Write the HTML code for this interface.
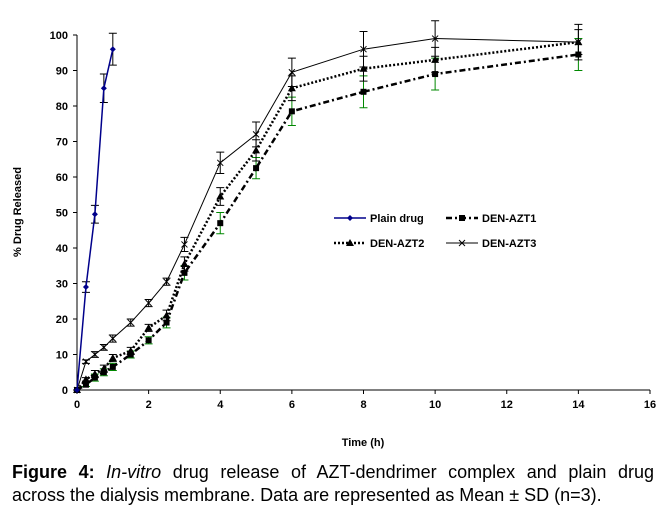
<!DOCTYPE html>
<html><head><meta charset="utf-8"><style>
body{margin:0;background:#fff;width:666px;height:517px;overflow:hidden;font-family:"Liberation Sans",Arial,sans-serif}
svg text{font-family:"Liberation Sans",Arial,sans-serif}
.cap{position:absolute;left:12px;top:461px;width:642px;font-size:18px;line-height:23px;color:#000}
.l1{display:block;text-align:justify;text-align-last:justify;white-space:nowrap}
.l2{display:block;text-align:left;white-space:nowrap}
</style></head><body>
<svg id="chart" width="666" height="517" style="position:absolute;left:0;top:0"></svg>
<div class="cap"><span class="l1"><b>Figure 4:</b> <i>In-vitro</i> drug release of AZT-dendrimer complex and plain drug</span><span class="l2">across the dialysis membrane. Data are represented as Mean ± SD (n=3).</span></div>
<script>
const xTicks=[0,2,4,6,8,10,12,14,16];
const yTicks=[0,10,20,30,40,50,60,70,80,90,100];
const plainT=[0,0.25,0.5,0.75,1];
const plainV=[0,29,49.5,85,96];
const plainE=[0,1.5,2.5,4,4.5];
const tLong=[0,0.25,0.5,0.75,1,1.5,2,2.5,3,4,5,6,8,10,14];
const azt1V=[0,1.5,3.5,5,6.5,10,14,19,33,47,62.5,78.5,84,89,94.5];
const azt1E=[0,0.5,1,1,1,1,1,1.5,2,3,3,4,4.5,4.5,4.5];
const azt2V=[0,3,4.5,6,9,11,17.5,21,35.5,54.5,67.5,85,90.5,93,98];
const azt2E=[0,0.5,1,1,1,1,1,1.5,2,2.5,3,3.5,3.5,3.5,3.5];
const azt3V=[0,8,10,12,14.5,19,24.5,30.5,41,64,72,89.5,96,99,98];
const azt3E=[0,0.5,0.8,0.8,1,1,1,1,2,3,3.5,4,5,5,5];
const X=t=>77+t*(573/16), Y=v=>390-v*3.55;
const svg=document.getElementById('chart');const NS='http://www.w3.org/2000/svg';
function mk(tag,at,parent){const e=document.createElementNS(NS,tag);for(const k in at)e.setAttribute(k,at[k]);(parent||svg).appendChild(e);return e;}
let e;
e=mk('line',{x1:77,y1:35,x2:77,y2:390,stroke:'#000'});


e=mk('line',{x1:77,y1:390,x2:650,y2:390,stroke:'#000'});


yTicks.forEach(v=>{mk('line',{x1:73,y1:Y(v),x2:77,y2:Y(v),stroke:'#000'});
 e=mk('text',{x:68,y:Y(v)+4,'text-anchor':'end','font-size':11,'font-weight':'bold'});e.textContent=v;
 
 });
xTicks.forEach(v=>{mk('line',{x1:X(v),y1:390,x2:X(v),y2:394,stroke:'#000'});
 e=mk('text',{x:X(v),y:408,'text-anchor':'middle','font-size':11,'font-weight':'bold'});e.textContent=v;
 
 });
e=mk('text',{x:0,y:0,transform:'translate(21,212) rotate(-90)','text-anchor':'middle','font-size':11,'font-weight':'bold'});e.textContent='% Drug Released';


e=mk('text',{x:363,y:446,'text-anchor':'middle','font-size':11,'font-weight':'bold'});e.textContent='Time (h)';


function marker(g,type,x,y,col){
 if(type==='diamond')mk('polygon',{points:`${x},${y-3} ${x+3},${y} ${x},${y+3} ${x-3},${y}`,fill:col},g);
 else if(type==='square')mk('rect',{x:x-3,y:y-3,width:6,height:6,fill:col},g);
 else if(type==='tri')mk('polygon',{points:`${x},${y-4} ${x+4},${y+3} ${x-4},${y+3}`,fill:col},g);
 else{mk('line',{x1:x-3,y1:y-3,x2:x+3,y2:y+3,stroke:col},g);mk('line',{x1:x-3,y1:y+3,x2:x+3,y2:y-3,stroke:col},g);}
}
function series(name,ts,vs,es,col,w,dash,type,ecol){
 const g=mk('g',{});
 
 
 ts.forEach((t,i)=>{if(es[i]>0){const x=X(t);mk('path',{d:`M${x},${Y(vs[i]+es[i])}V${Y(vs[i]-es[i])}M${x-4},${Y(vs[i]+es[i])}h8M${x-4},${Y(vs[i]-es[i])}h8`,stroke:ecol,fill:'none'},g);}});
 mk('polyline',{points:ts.map((t,i)=>X(t)+','+Y(vs[i])).join(' '),fill:'none',stroke:col,'stroke-width':w,'stroke-dasharray':dash},g);
 ts.forEach((t,i)=>marker(g,type,X(t),Y(vs[i]),col));
}
series('series-azt1',tLong,azt1V,azt1E,'#000',2.5,'6,3,2,3','square','#080');
series('series-azt2',tLong,azt2V,azt2E,'#000',2.5,'2,2','tri','#000');
series('series-azt3',tLong,azt3V,azt3E,'#000',1,'','x','#000');
series('series-plain-drug',plainT,plainV,plainE,'#00008b',1.5,'','diamond','#000');
const leg=[['Plain drug',334,218,'#00008b',1.5,'','diamond'],['DEN-AZT1',446,218,'#000',2.5,'6,3,2,3','square'],['DEN-AZT2',334,243,'#000',2.5,'2,2','tri'],['DEN-AZT3',446,243,'#000',1,'','x']];
leg.forEach(l=>{const g=mk('g',{});
 
 
 mk('line',{x1:l[1],y1:l[2],x2:l[1]+32,y2:l[2],stroke:l[3],'stroke-width':l[4],'stroke-dasharray':l[5]},g);
 marker(g,l[6],l[1]+16,l[2],l[3]);
 const t=mk('text',{x:l[1]+36,y:l[2]+4,'font-size':11,'font-weight':'bold'},g);t.textContent=l[0];});
</script>
</body></html>
